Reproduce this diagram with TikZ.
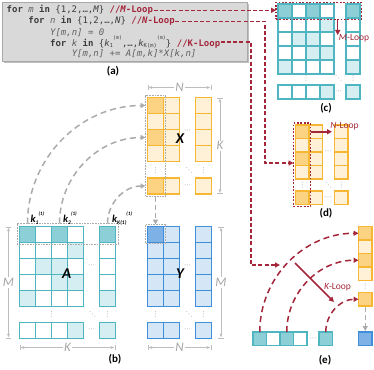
\documentclass[tikz,border=0pt]{standalone}
\usepackage{fontspec}
\setmainfont{Carlito}
\newfontfamily\codefont{DejaVu Sans Mono}
\newfontfamily\symfont{DejaVu Sans}
\usetikzlibrary{arrows.meta,shadows}
\definecolor{tealB}{HTML}{4FB5C1}
\definecolor{tealD}{HTML}{8DCFD7}
\definecolor{tealL}{HTML}{D4EEF1}
\definecolor{orB}{HTML}{F7B733}
\definecolor{orD}{HTML}{FCD383}
\definecolor{orL}{HTML}{FFF1D7}
\definecolor{blB}{HTML}{3E8EDA}
\definecolor{blD}{HTML}{7EB2E6}
\definecolor{blL}{HTML}{D5E6F6}
\definecolor{cred}{HTML}{A3263A}
\definecolor{arcgray}{HTML}{ABABAB}
\definecolor{dimgray}{HTML}{BDBDBD}
\definecolor{labgray}{HTML}{A6A6A6}
\definecolor{codebg}{HTML}{D9D9D9}
\definecolor{codeframe}{HTML}{A8A8A8}
\definecolor{codegray}{HTML}{3C3C3C}
\definecolor{vargray}{HTML}{606060}
\newcommand\mcell[4]{\path[#4] ({#1},{#2}) rectangle ++({#3},{#3});}
\newcommand\tealrow[9]{\mcell{#1}{#2}{#3}{#5}\mcell{#1+#3}{#2}{#3}{#6}\mcell{#1+2*#3}{#2}{#3}{#7}\mcell{#1+3*#3}{#2}{#3}{#8}\mcell{#4}{#2}{#3}{#9}}
\newcommand\duorow[7]{\mcell{#1}{#2}{#3}{#5}\mcell{#1+#3}{#2}{#3}{#6}\mcell{#4}{#2}{#3}{#7}}
\newcommand\csub[1]{\raisebox{-1.3pt}{\fontsize{5.5}{6}\selectfont #1}}
\newcommand\csup[1]{\raisebox{6pt}{\fontsize{5}{6}\selectfont #1}}
\newcommand\ksub[1]{\raisebox{-1.5pt}{\fontsize{5.5}{6}\selectfont\bfseries #1}}
\newcommand\ksup[1]{\raisebox{7pt}{\fontsize{5}{6}\selectfont\bfseries #1}}
\begin{document}
\begin{tikzpicture}[x=1pt,y=-1pt,
 tD/.style={line width=1.5pt,draw=tealB,fill=tealD},
 tL/.style={line width=1.5pt,draw=tealB,fill=tealL},
 tW/.style={line width=1.5pt,draw=tealB,fill=white},
 oD/.style={line width=1.5pt,draw=orB,fill=orD},
 oL/.style={line width=1.5pt,draw=orB,fill=orL},
 bD/.style={line width=1.5pt,draw=blB,fill=blD},
 bL/.style={line width=1.5pt,draw=blB,fill=blL},
 codetxt/.style={anchor=base west,inner sep=0.5pt,text=codegray,font=\codefont\fontsize{9}{11}\selectfont},
 redflow/.style={draw=cred,line width=1.4pt,dash pattern=on 4pt off 2.2pt,-{Triangle[length=5pt,width=5pt]}},
 redarc/.style={draw=cred,line width=1.5pt,dash pattern=on 6pt off 4pt,-{Triangle[length=5pt,width=5pt]}},
 grayarc/.style={draw=arcgray,line width=1.5pt,dash pattern=on 6pt off 4pt,-{Triangle[length=5pt,width=5pt]}},
 redarrow/.style={draw=cred,line width=1.5pt,-{Triangle[length=5pt,width=5pt]}},
 graybox/.style={draw=arcgray,line width=0.8pt,dash pattern=on 0.8pt off 0.8pt,inner sep=0,outer sep=0,anchor=north west},
 redbox/.style={draw=cred,line width=1.9pt,dash pattern=on 1.8pt off 1.6pt,inner sep=0,outer sep=0,anchor=north west},
 dimline/.style={draw=dimgray,line width=0.7pt,|<->|,>={Latex[length=4pt,width=3pt]}},
 dimlab/.style={fill=white,inner sep=1pt,text=labgray,font=\fontsize{13}{13}\selectfont\itshape},
 matlab/.style={inner sep=0,font=\fontsize{15}{15}\selectfont\bfseries\itshape},
 dotsym/.style={inner sep=0,text=labgray,font=\symfont\fontsize{7}{7}\selectfont},
 panellab/.style={inner sep=0,font=\fontsize{11}{11}\selectfont\bfseries},
 looplab/.style={inner sep=0,text=cred,font=\fontsize{9.5}{10}\selectfont},
 klab/.style={anchor=base west,inner sep=0,font=\fontsize{10.5}{11}\selectfont\bfseries\itshape},
]
\useasboundingbox (0,0) rectangle (374,369);

% ---------- (a) code ----------
\node[draw=codeframe,fill=codebg,line width=0.6pt,
      drop shadow={shadow xshift=1.5pt,shadow yshift=-1.5pt,fill=black!50,opacity=0.5},
      anchor=north west,minimum width=245pt,minimum height=59pt,inner sep=0] (codebox) at (2,2) {};
\node[codetxt] (lineM) at (6,13) {{\bfseries for} {\color{vargray}\itshape m} {\bfseries in} \{1,2,…,{\itshape M}\} {\color{cred}\bfseries//{\itshape M}-Loop}};
\node[codetxt] (lineN) at (27.7,24) {{\bfseries for} {\color{vargray}\itshape n} {\bfseries in} \{1,2,…,{\itshape N}\} {\color{cred}\bfseries//{\itshape N}-Loop}};
\node[codetxt] (lineY) at (49.4,35) {{\color{vargray}\itshape Y[m,n] = 0}};
\node[codetxt] (lineK) at (49.4,46) {{\bfseries for} {\color{vargray}\itshape k} {\bfseries in} \{{\itshape k}\csub{1}\csup{(m)},…,{\itshape k}\csub{K(m)}\csup{(m)}\} {\color{cred}\bfseries//K-Loop}};
\node[codetxt] (lineS) at (71.1,56.5) {{\color{vargray}\itshape Y[m,n] += A[m,k]*X[k,n]}};
\node[panellab] (la) at (113,71.5) {(a)};

% ---------- (b) matrix A ----------
\tealrow{19.5}{226.5}{16}{99.5}{tD}{tW}{tD}{tW}{tD}
\tealrow{19.5}{242.5}{16}{99.5}{tW}{tW}{tW}{tL}{tW}
\tealrow{19.5}{258.5}{16}{99.5}{tW}{tL}{tL}{tW}{tW}
\tealrow{19.5}{274.5}{16}{99.5}{tW}{tW}{tL}{tL}{tW}
\tealrow{19.5}{290.5}{16}{99.5}{tL}{tW}{tW}{tW}{tL}
\tealrow{19.5}{322.5}{16}{99.5}{tW}{tW}{tW}{tL}{tL}
\node[graybox,minimum width=101pt,minimum height=20.5pt] (abox) at (17,223.5) {};
\node[matlab] (labA) at (66.7,273.5) {A};
\node[dotsym] (dA1) at (51.5,314.5) {⋮};
\node[dotsym] (dA2) at (92.7,314.5) {⋱};
\node[dotsym] (dA3) at (107.5,314.5) {⋮};
\node[dotsym] (dA4) at (91.5,266) {⋯};
\node[dotsym] (dA5) at (91.5,330.5) {⋯};
\draw[dimline] (8.5,226.5) -- node[dimlab] (mA) {M} (8.5,338.5);
\draw[dimline] (19.5,347.5) -- node[dimlab] (kA) {K} (115.5,347.5);
\node[klab] (k1) at (30.5,222.5) {k\ksub{1}\ksup{(1)}};
\node[klab] (k2) at (63,222.5) {k\ksub{2}\ksup{(1)}};
\node[klab] (kK) at (112,222.5) {k\ksub{K(1)}\ksup{(1)}};

% ---------- (b) matrix X ----------
\duorow{147.5}{97.5}{16}{195.5}{oD}{oL}{oL}
\duorow{147.5}{113.5}{16}{195.5}{oL}{oL}{oL}
\duorow{147.5}{129.5}{16}{195.5}{oD}{oL}{oL}
\duorow{147.5}{145.5}{16}{195.5}{oL}{oL}{oL}
\duorow{147.5}{178}{16}{195.5}{oD}{oL}{oL}
\node[graybox,minimum width=20pt,minimum height=101.5pt] (xbox) at (145.5,95) {};
\node[matlab] (labX) at (180,139) {X};
\node[dotsym] (dX1) at (155.5,170) {⋮};
\node[dotsym] (dX2) at (189,170) {⋱};
\node[dotsym] (dX3) at (203.5,170) {⋮};
\node[dotsym] (dX4) at (187.5,131) {⋯};
\node[dotsym] (dX5) at (187.5,186) {⋯};
\draw[dimline] (147.5,87.5) -- node[dimlab] (nX) {N} (211.5,87.5);
\draw[dimline] (220,97.5) -- node[dimlab] (kX) {K} (220,194);

% ---------- (b) matrix Y ----------
\duorow{147.5}{226.5}{16}{195.5}{bD}{bL}{bL}
\duorow{147.5}{242.5}{16}{195.5}{bL}{bL}{bL}
\duorow{147.5}{258.5}{16}{195.5}{bL}{bL}{bL}
\duorow{147.5}{274.5}{16}{195.5}{bL}{bL}{bL}
\duorow{147.5}{290.5}{16}{195.5}{bL}{bL}{bL}
\duorow{147.5}{322.5}{16}{195.5}{bL}{bL}{bL}
\node[graybox,minimum width=20pt,minimum height=19pt] (ybox) at (145.5,224.5) {};
\node[matlab] (labY) at (180,273.5) {Y};
\node[dotsym] (dY1) at (155.5,314.5) {⋮};
\node[dotsym] (dY2) at (189,314.5) {⋱};
\node[dotsym] (dY3) at (203.5,314.5) {⋮};
\node[dotsym] (dY4) at (187.5,266) {⋯};
\node[dotsym] (dY5) at (187.5,330.5) {⋯};
\draw[dimline] (221,226.5) -- node[dimlab] (mY) {M} (221,338.5);
\draw[dimline] (147.5,347.5) -- node[dimlab] (nY) {N} (211.5,347.5);
\node[panellab] (lb) at (115,359) {(b)};

% gray arcs A -> X, X -> Y
\coordinate (a0) at (27.5,223.5);
\coordinate (a2) at (59.5,223.5);
\coordinate (aK) at (107.5,223.5);
\coordinate (x0) at (145.5,105.5);
\coordinate (x2) at (145.5,137.5);
\coordinate (xK) at (145.5,186);
\draw[grayarc] (a0) .. controls (27.5,158.4) and (80.4,105.5) .. (x0);
\draw[grayarc] (a2) .. controls (59.5,176) and (98,137.5) .. (x2);
\draw[grayarc] (aK) .. controls (107.5,202.8) and (124.5,186) .. (xK);
\draw[grayarc,dash pattern=on 5pt off 3pt] (xbox.south) -- (ybox.north);

% ---------- (c) ----------
\tealrow{278}{4}{14}{346}{tD}{tW}{tD}{tW}{tD}
\tealrow{278}{18}{14}{346}{tW}{tW}{tW}{tL}{tW}
\tealrow{278}{32}{14}{346}{tW}{tL}{tL}{tW}{tW}
\tealrow{278}{46}{14}{346}{tW}{tW}{tL}{tL}{tW}
\tealrow{278}{60}{14}{346}{tL}{tW}{tW}{tW}{tL}
\tealrow{278}{85}{14}{346}{tW}{tW}{tW}{tL}{tL}
\node[redbox,minimum width=85.5pt,minimum height=17pt] (cbox) at (276,2.5) {};
\node[dotsym] (dC1) at (306,78.5) {⋮};
\node[dotsym] (dC2) at (338.5,78.5) {⋱};
\node[dotsym] (dC3) at (353,78.5) {⋮};
\node[dotsym] (dC4) at (338.5,92) {⋯};
\coordinate (mls) at (337.7,20);
\coordinate (mle) at (337.7,35);
\draw[redarrow] (mls) -- (mle);
\node[looplab] (mloop) at (354,38.5) {{\itshape M}-Loop};
\node[panellab] (lc) at (326,108.5) {(c)};

% ---------- (d) ----------
\duorow{295.5}{125}{13.5}{334.5}{oD}{oL}{oL}
\duorow{295.5}{138.5}{13.5}{334.5}{oL}{oL}{oL}
\duorow{295.5}{152}{13.5}{334.5}{oD}{oL}{oL}
\duorow{295.5}{165.5}{13.5}{334.5}{oL}{oL}{oL}
\duorow{295.5}{191}{13.5}{334.5}{oD}{oL}{oL}
\node[redbox,minimum width=17pt,minimum height=83.5pt] (dbox) at (293.5,123) {};
\node[dotsym] (dD1) at (302.25,185) {⋮};
\node[dotsym] (dD2) at (328.5,185) {⋱};
\node[dotsym] (dD3) at (341.25,185) {⋮};
\node[dotsym] (dD4) at (328,152.5) {⋯};
\node[dotsym] (dD5) at (328,198) {⋯};
\coordinate (nls) at (310.5,131.75);
\coordinate (nle) at (332,131.75);
\draw[redarrow] (nls) -- (nle);
\node[looplab] (nloop) at (344.5,126.5) {{\itshape N}-Loop};
\node[panellab] (ld) at (326,213.5) {(d)};

% ---------- (e) ----------
\mcell{358.5}{226.5}{13.5}{oD}
\mcell{358.5}{240}{13.5}{oL}
\mcell{358.5}{253.5}{13.5}{oD}
\mcell{358.5}{267}{13.5}{oL}
\mcell{358.5}{292.5}{13.5}{oD}
\mcell{358.5}{332}{13.5}{bD}
\mcell{253}{332}{13.5}{tD}
\mcell{266.5}{332}{13.5}{tW}
\mcell{280}{332}{13.5}{tD}
\mcell{293.5}{332}{13.5}{tW}
\mcell{319}{332}{13.5}{tD}
\node[dotsym] (dE1) at (365.25,286.5) {⋮};
\node[dotsym] (dE2) at (313,338.75) {⋯};
\coordinate (e0) at (259.75,332);
\coordinate (e2) at (286.75,332);
\coordinate (eK) at (325.75,332);
\coordinate (o0) at (358.5,233.25);
\coordinate (o2) at (358.5,260.25);
\coordinate (oK) at (358.5,299.25);
\draw[redarc] (e0) .. controls (259.75,277.5) and (304,233.25) .. (o0);
\draw[redarc] (e2) .. controls (286.75,292.4) and (318.9,260.25) .. (o2);
\draw[redarc] (eK) .. controls (325.75,313.9) and (340.4,299.25) .. (oK);
\coordinate (eorbS) at (365.25,307);
\coordinate (eblueN) at (365.25,331);
\draw[grayarc,dash pattern=on 5pt off 3pt] (eorbS) -- (eblueN);
\coordinate (kls) at (295,263);
\coordinate (kle) at (334,302);
\draw[redarrow] (kls) -- (kle);
\node[looplab] (kloop) at (337.5,287.7) {{\itshape K}-Loop};
\node[panellab] (le) at (325,360) {(e)};

% ---------- code-to-panel connectors ----------
\coordinate (nturn) at (265,163);
\coordinate (kturn) at (251,265);
\coordinate (kend) at (280,265);
\draw[redflow] (lineM.east) -- (lineM.east -| cbox.west);
\draw[redflow] (lineN.east) -| (nturn) -- (nturn -| dbox.west);
\draw[redflow] (lineK.east) -| (kturn) -- (kend);
\end{tikzpicture}
\end{document}
